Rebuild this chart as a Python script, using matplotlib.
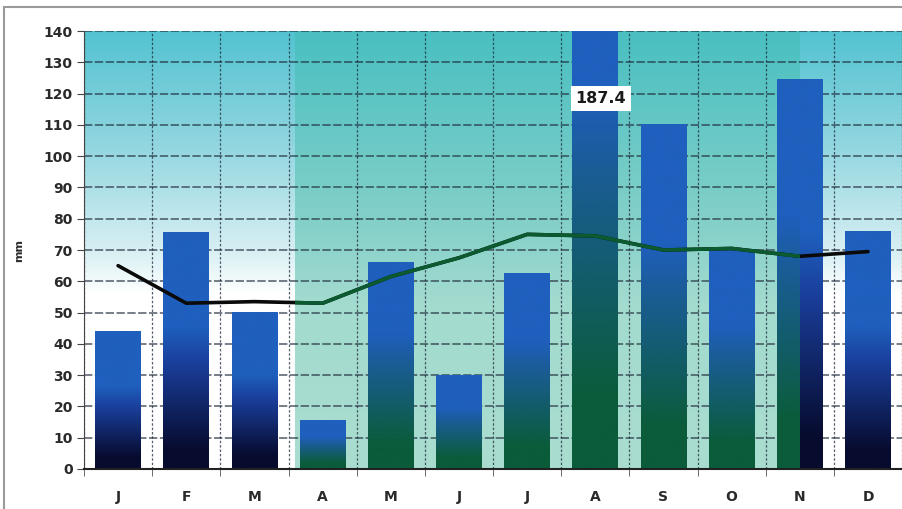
import numpy as np
import matplotlib.pyplot as plt
from matplotlib.colors import to_rgb
from matplotlib.patches import Rectangle

months = ["J", "F", "M", "A", "M", "J", "J", "A", "S", "O", "N", "D"]
rainfall = [44, 75.5, 50, 15.5, 66, 30, 62.5, 187.4, 110, 70, 124.5, 76]
trend = [65, 53, 53.5, 53, 61.5, 67.5, 75, 74.5, 70, 70.5, 68, 69.5]
yticks = list(range(0, 141, 10))
ymax = 140

# wet season span, in category units (J = 0)
season_start, season_end = 2.6, 10.0

BLUE = "#1f5fbd"
NAVY = "#070b2e"
GREEN = "#0a5c3a"


def vertical_gradient(stops, n=256):
    """stops: list of (fraction, colour) from bottom (0) to top (1)."""
    pos = np.linspace(0, 1, n)
    fr = [s[0] for s in stops]
    cols = np.array([to_rgb(s[1]) for s in stops])
    rgb = np.stack([np.interp(pos, fr, cols[:, i]) for i in range(3)], axis=1)
    return rgb[:, None, :]


def season_rect():
    return Rectangle((season_start, 0), season_end - season_start, ymax,
                     transform=ax.transData)


fig = plt.figure(figsize=(9.03, 5.09), dpi=100)
ax = fig.add_axes([0.093, 0.0786, 0.906, 0.8604])
x = np.arange(len(months))

ax.set_xlim(-0.5, 11.5)
ax.set_ylim(0, ymax)

# background: cyan sky fading to white, teal band for the wet season
bg = vertical_gradient([(0, "#ffffff"), (0.40, "#ffffff"), (0.50, "#d6eff3"),
                        (0.75, "#8fd5df"), (1, "#53c3d1")])
ax.imshow(bg, extent=(-0.5, 11.5, 0, ymax), origin="lower", aspect="auto", zorder=0)
season_bg = vertical_gradient([(0, "#a9ddd0"), (0.38, "#a3dbcf"), (0.55, "#86d1c9"),
                               (1, "#49bfc1")])
ax.imshow(season_bg, extent=(season_start, season_end, 0, ymax), origin="lower",
          aspect="auto", zorder=0.1)

# bars, then gradient fills on top of them
bars = ax.bar(x, rainfall, width=0.67, color=BLUE, zorder=2)
dry_fill = vertical_gradient([(0, NAVY), (0.08, NAVY), (0.45, "#1a3f9c"), (0.6, BLUE), (1, BLUE)])
wet_fill = vertical_gradient([(0, GREEN), (0.12, GREEN), (0.5, "#1a5c93"), (0.65, BLUE), (1, BLUE)])
for b in bars:
    ext = (b.get_x(), b.get_x() + b.get_width(), 0, b.get_height())
    ax.imshow(dry_fill, extent=ext, origin="lower", aspect="auto", zorder=2.1)
    im = ax.imshow(wet_fill, extent=ext, origin="lower", aspect="auto", zorder=2.2)
    im.set_clip_path(season_rect())

# trend line: black, green inside the wet season
ax.plot(x, trend, color="#0a0a0a", lw=2.6, zorder=3, solid_capstyle="round")
wet_line, = ax.plot(x, trend, color="#0b5a30", lw=2.6, zorder=3.1)
wet_line.set_clip_path(season_rect())

# value label for the bar running off the scale
ax.text(x[7] + 0.08, 118.5, f"{rainfall[7]:.1f}", ha="center", va="center",
        fontsize=11.5, fontweight="bold", color="#1a1a1a", zorder=5,
        bbox=dict(boxstyle="square,pad=0.3", fc="white", ec="none"))

# grid and axes
ax.set_yticks(yticks)
ax.set_xticks(x)
ax.set_xticklabels(months)
ax.set_xticks(np.arange(-0.5, 12, 1), minor=True)
ax.set_axisbelow(True)
ax.grid(axis="y", which="major", color="#1e2a3a", lw=1.2, ls=(0, (5, 1.5)), alpha=0.7)
ax.grid(axis="x", which="minor", color="#1e2a3a", lw=0.9, ls=(0, (2, 1.5)), alpha=0.75)

ax.tick_params(axis="x", which="major", length=0, pad=15)
ax.tick_params(axis="x", which="minor", length=5, color="#555555")
ax.tick_params(axis="y", length=5, color="#444444", pad=3)
for lab in ax.get_xticklabels() + ax.get_yticklabels():
    lab.set_fontweight("bold")
    lab.set_fontsize(10)
    lab.set_color("#2a2a2a")

ax.set_ylabel("mm", fontsize=8, fontweight="bold", color="#2a2a2a", labelpad=14)

for side in ["top", "right"]:
    ax.spines[side].set_visible(False)
ax.spines["left"].set_color("#444444")
ax.spines["bottom"].set_color("#222222")
ax.spines["bottom"].set_linewidth(1.5)

# outer frame
fig.patches.append(Rectangle((0.0044, -0.1), 1.2, 1.086, transform=fig.transFigure,
                             fill=False, ec="#9a9a9a", lw=1.5))

fig.savefig("out.png", dpi=100)
